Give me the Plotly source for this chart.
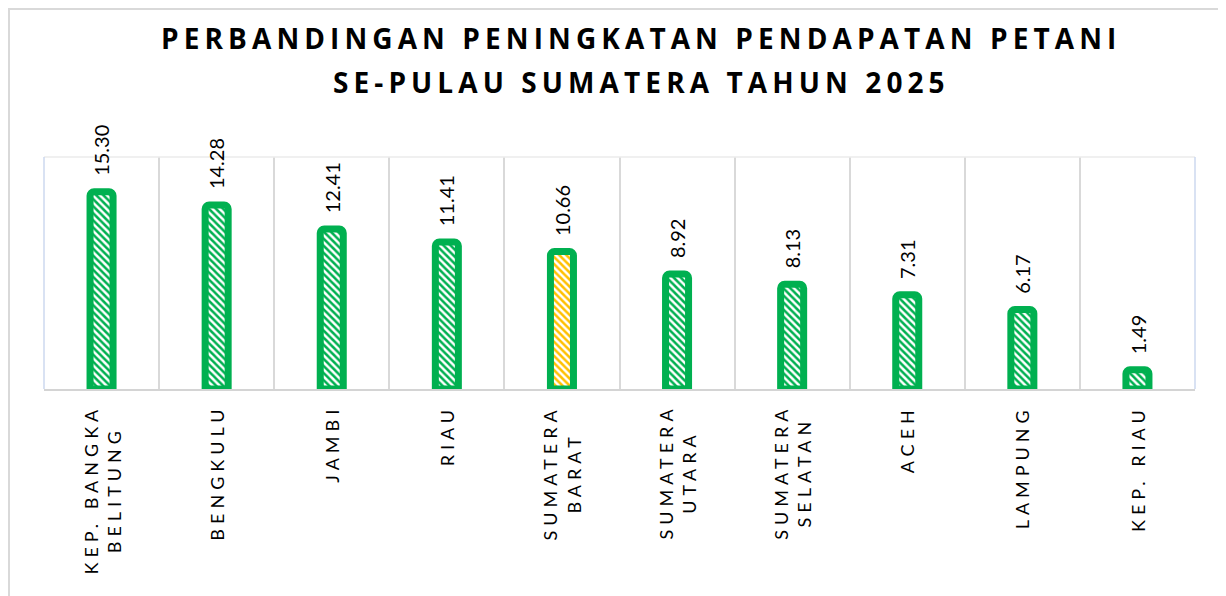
import plotly.graph_objects as go

categories = ["KEP. BANGKA<br>BELITUNG", "BENGKULU", "JAMBI", "RIAU", "SUMATERA<br>BARAT",
              "SUMATERA<br>UTARA", "SUMATERA<br>SELATAN", "ACEH", "LAMPUNG", "KEP. RIAU"]
values = [15.30, 14.28, 12.41, 11.41, 10.66, 8.92, 8.13, 7.31, 6.17, 1.49]
labels = ["15.30", "14.28", "12.41", "11.41", "10.66", "8.92", "8.13", "7.31", "6.17", "1.49"]
highlight = "SUMATERA<br>BARAT"
title_lines = ["PERBANDINGAN PENINGKATAN PENDAPATAN PETANI", "SE-PULAU SUMATERA TAHUN 2025"]

GREEN = "#00B050"
GOLD = "#FFC000"
bg = [GOLD if c == highlight else GREEN for c in categories]


def spaced(txt, px):
    return "<br>".join(f'<span style="letter-spacing:{px}px">{ln}</span>' for ln in txt.split("<br>"))


W, H = 1218, 588
ml, mr, mt, mb = 36, 31, 149, 207
pw, ph = W - ml - mr, H - mt - mb

fig = go.Figure()
fig.add_trace(go.Bar(
    x=categories, y=values,
    width=0.2,
    marker=dict(
        color=bg,
        line=dict(color=GREEN, width=7),
        cornerradius=4,
        pattern=dict(shape="\\", fgcolor="white", bgcolor=bg, size=5, solidity=0.5,
                     fgopacity=1, fillmode="replace"),
    ),
    hoverinfo="x+y",
))

annotations = []
# data labels
for c, v, t in zip(categories, values, labels):
    annotations.append(dict(
        x=c, y=v, xref="x", yref="y", text=t, textangle=-90,
        xanchor="center", yanchor="bottom", yshift=14, showarrow=False,
        font=dict(family="Lato, Open Sans, sans-serif", size=20, color="#000000"),
    ))
# category labels
for c in categories:
    annotations.append(dict(
        x=c, y=0, xref="x", yref="paper", text=spaced(c, 5), textangle=-90,
        xanchor="center", yanchor="top", yshift=-14, showarrow=False, align="center",
        font=dict(family="Lato, Open Sans, sans-serif", size=18, color="#000000"),
    ))
# title
for ln, ty in zip(title_lines, [29.5, 74]):
    annotations.append(dict(
        text="<b>" + spaced(ln, 5.1) + "</b>", xref="paper", yref="paper",
        x=(633 - ml) / pw, y=1 + (mt - ty) / ph, xanchor="center", yanchor="middle",
        showarrow=False, font=dict(family="Open Sans, sans-serif", size=28, color="#000000"),
    ))

fig.update_layout(
    width=W, height=H,
    margin=dict(l=ml, r=mr, t=mt, b=mb, autoexpand=False),
    paper_bgcolor="white", plot_bgcolor="white",
    showlegend=False,
    font=dict(family="Lato, Open Sans, sans-serif", color="#000000"),
    xaxis=dict(
        tickson="boundaries", showgrid=True, gridcolor="#D9D9D9", gridwidth=1.5,
        ticks="", showticklabels=False, showline=True, linecolor="#D4D4D4", linewidth=2,
        automargin=False,
    ),
    yaxis=dict(
        range=[0, 18], showticklabels=False, showgrid=False, zeroline=False,
        showline=False, ticks="", automargin=False,
    ),
    shapes=[
        # outer chart border
        dict(type="rect", xref="paper", yref="paper",
             x0=(1 - ml) / pw, x1=(W + 4 - ml) / pw,
             y0=-(mb + 4) / ph, y1=1 + (mt - 1) / ph,
             line=dict(color="#D9D9D9", width=2), fillcolor="rgba(0,0,0,0)", layer="below"),
        # plot area border: top, left, right
        dict(type="line", xref="paper", yref="paper", x0=0, x1=1, y0=1, y1=1,
             line=dict(color="#EBEBEB", width=1.5)),
        dict(type="line", xref="paper", yref="paper", x0=0, x1=0, y0=0, y1=1,
             line=dict(color="#CDD9EF", width=1.5)),
        dict(type="line", xref="paper", yref="paper", x0=1, x1=1, y0=0, y1=1,
             line=dict(color="#CDD9EF", width=1.5)),
    ],
    annotations=annotations,
)

fig.write_html("out.html")
